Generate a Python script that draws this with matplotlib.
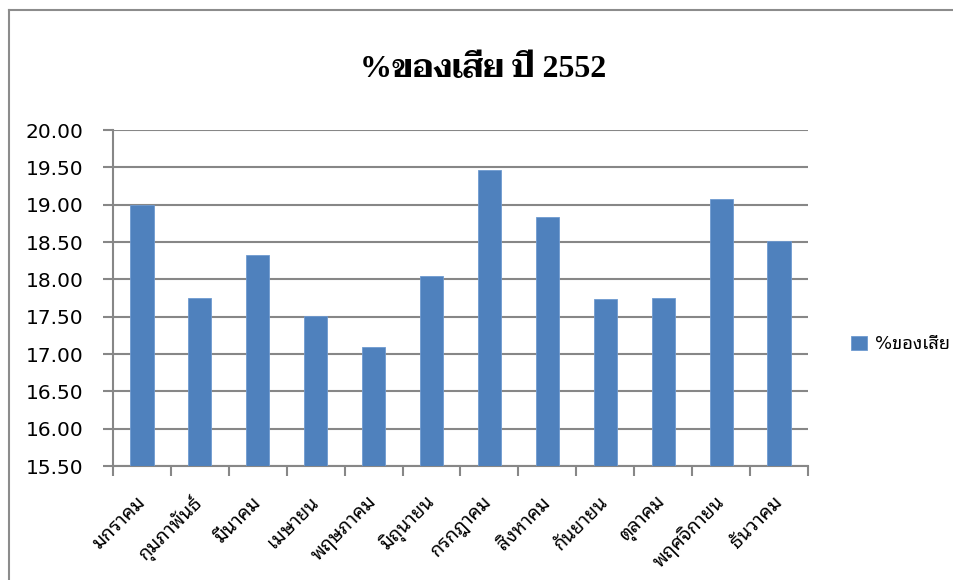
import matplotlib
matplotlib.use("Agg")
import matplotlib.pyplot as plt
from matplotlib.lines import Line2D
from matplotlib.patches import Patch
import numpy as np

months = ["มกราคม", "กุมภาพันธ์", "มีนาคม", "เมษายน", "พฤษภาคม", "มิถุนายน",
          "กรกฎาคม", "สิงหาคม", "กันยายน", "ตุลาคม", "พฤศจิกายน", "ธันวาคม"]
waste_pct = [19.00, 17.75, 18.32, 17.51, 17.10, 18.05,
             19.47, 18.83, 17.74, 17.75, 19.08, 18.52]
y_ticks = [15.50, 16.00, 16.50, 17.00, 17.50, 18.00, 18.50, 19.00, 19.50, 20.00]
series_name = "%ของเสีย"
title_text = "%ของเสีย ปี 2552"

bar_color = "#4F81BD"
grid_color = "#878787"
label_fonts = ["DejaVu Sans", "Noto Sans Thai Looped"]

fig = plt.figure(figsize=(9.54, 5.80), dpi=100)
ax = fig.add_axes([113 / 954, 1 - 466 / 580, (808 - 113) / 954, (466 - 130) / 580])

x = np.arange(len(months))
ax.bar(x, waste_pct, width=0.4, color=bar_color, edgecolor="#6F9AD0",
       linewidth=0.6, zorder=3)

ax.set_ylim(y_ticks[0], y_ticks[-1])
ax.set_xlim(-0.5, len(months) - 0.5)
ax.set_yticks(y_ticks)
ax.set_yticklabels([f"{v:.2f}" for v in y_ticks], fontsize=14.5,
                   family=label_fonts)
ax.yaxis.grid(True, color=grid_color, linewidth=1.5, zorder=0)
ax.tick_params(axis="y", length=7, width=1.5, color=grid_color, pad=14)

# category boundaries carry the tick marks, centres carry the labels
ax.set_xticks(np.arange(len(months) + 1) - 0.5)
ax.set_xticklabels([])
ax.tick_params(axis="x", which="major", length=7, width=1.5, color=grid_color)
ax.set_xticks(x, minor=True)
ax.set_xticklabels(months, minor=True, rotation=45, ha="right", va="center",
                   rotation_mode="anchor", fontsize=14, family=label_fonts)
ax.tick_params(axis="x", which="minor", length=0, pad=24)

for side in ("top", "right"):
    ax.spines[side].set_visible(False)
for side in ("left", "bottom"):
    ax.spines[side].set_color(grid_color)
    ax.spines[side].set_linewidth(1.5)

fig.text(483 / 954, 1 - 70 / 580, title_text, ha="center", va="center",
         fontsize=23, fontweight="bold",
         family=["Liberation Serif", "Taviraj"])

handle = Patch(facecolor=bar_color, edgecolor="#6F9AD0", linewidth=0.6)
fig.legend([handle], [series_name], loc="center left",
           bbox_to_anchor=(835 / 954, 1 - 344 / 580), frameon=False,
           prop={"family": label_fonts, "size": 13},
           handlelength=0.85, handleheight=0.85, handletextpad=0.45)

# chart-area border, open on the right and bottom
fig.add_artist(Line2D([9 / 954, 9 / 954], [0, 1 - 10 / 580],
                      transform=fig.transFigure, color="#8C8C8C", linewidth=1.5))
fig.add_artist(Line2D([9 / 954, 1], [1 - 10 / 580, 1 - 10 / 580],
                      transform=fig.transFigure, color="#8C8C8C", linewidth=1.5))

fig.savefig("out.png", dpi=100, facecolor="white")
